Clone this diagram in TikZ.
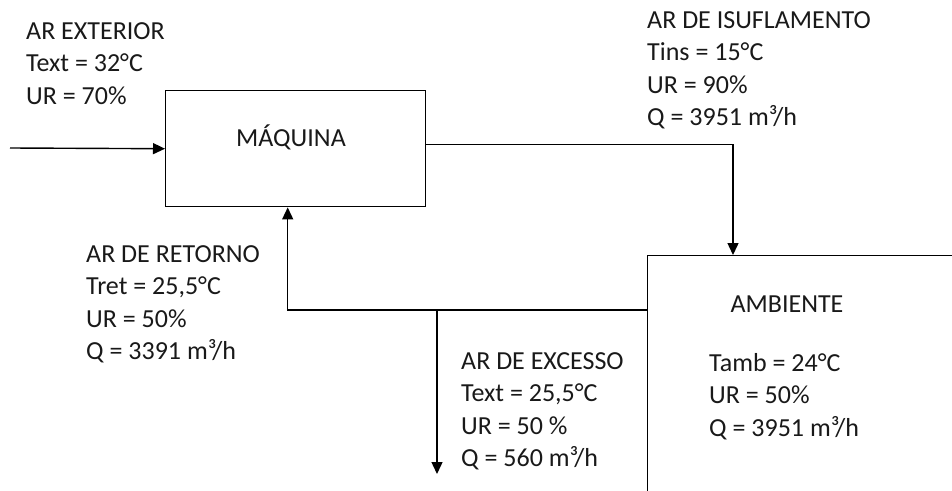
\documentclass[tikz,border=0pt]{standalone}
\usepackage{fontspec}
\setmainfont{Carlito}
\usetikzlibrary{arrows.meta}
\tikzset{
  x=1pt, y=-1pt,
  box/.style={draw, line width=1.4pt, inner sep=0pt, anchor=north west},
  flow/.style={line width=1.4pt, -{Triangle[length=12pt,width=11pt]}},
  lbl/.style={anchor=base west, inner sep=0pt, font=\fontsize{26}{32.5}\selectfont, text=black!90},
}
\newcommand{\lines}[1]{\vtop{\baselineskip=32.5pt #1}}
\begin{document}
\begin{tikzpicture}
\useasboundingbox (0,0) rectangle (952,490);
\clip (0,0) rectangle (952,490);
\node[box, minimum width=260pt, minimum height=116pt] (mq) at (165,90) {};
\node[box, minimum width=400pt, minimum height=300pt] (amb) at (647,255) {};
\node[lbl, anchor=base] (mqt) at (291,146) {MÁQUINA};
\node[lbl, anchor=base] (ambt) at (787,312) {AMBIENTE};
\node[lbl] (ext) at (26,39) {\lines{\hbox{AR EXTERIOR}\hbox{Text = 32°C}\hbox{UR = 70\%}}};
\node[lbl] (ins) at (647,28) {\lines{\hbox{AR DE ISUFLAMENTO}\hbox{Tins = 15°C}\hbox{UR = 90\%}\hbox{Q = 3951 m³/h}}};
\node[lbl] (ret) at (86,262) {\lines{\hbox{AR DE RETORNO}\hbox{Tret = 25,5°C}\hbox{UR = 50\%}\hbox{Q = 3391 m³/h}}};
\node[lbl] (exc) at (461,369) {\lines{\hbox{AR DE EXCESSO}\hbox{Text = 25,5°C}\hbox{UR = 50 \%}\hbox{Q = 560 m³/h}}};
\node[lbl] (ambv) at (709,371) {\lines{\hbox{Tamb = 24°C}\hbox{UR = 50\%}\hbox{Q = 3951 m³/h}}};
\coordinate (in) at (10,148);
\coordinate (br) at (437,310);
\coordinate (exend) at (437,474);
\draw[flow] (in) -- (mq.west);
\draw[flow] ([yshift=4pt]mq.east) -| ([xshift=86pt]amb.north west);
\draw[flow] ([yshift=-55pt]amb.north west) -| ([xshift=-8pt]mq.south);
\draw[flow] (br) -- (exend);
\end{tikzpicture}
\end{document}
